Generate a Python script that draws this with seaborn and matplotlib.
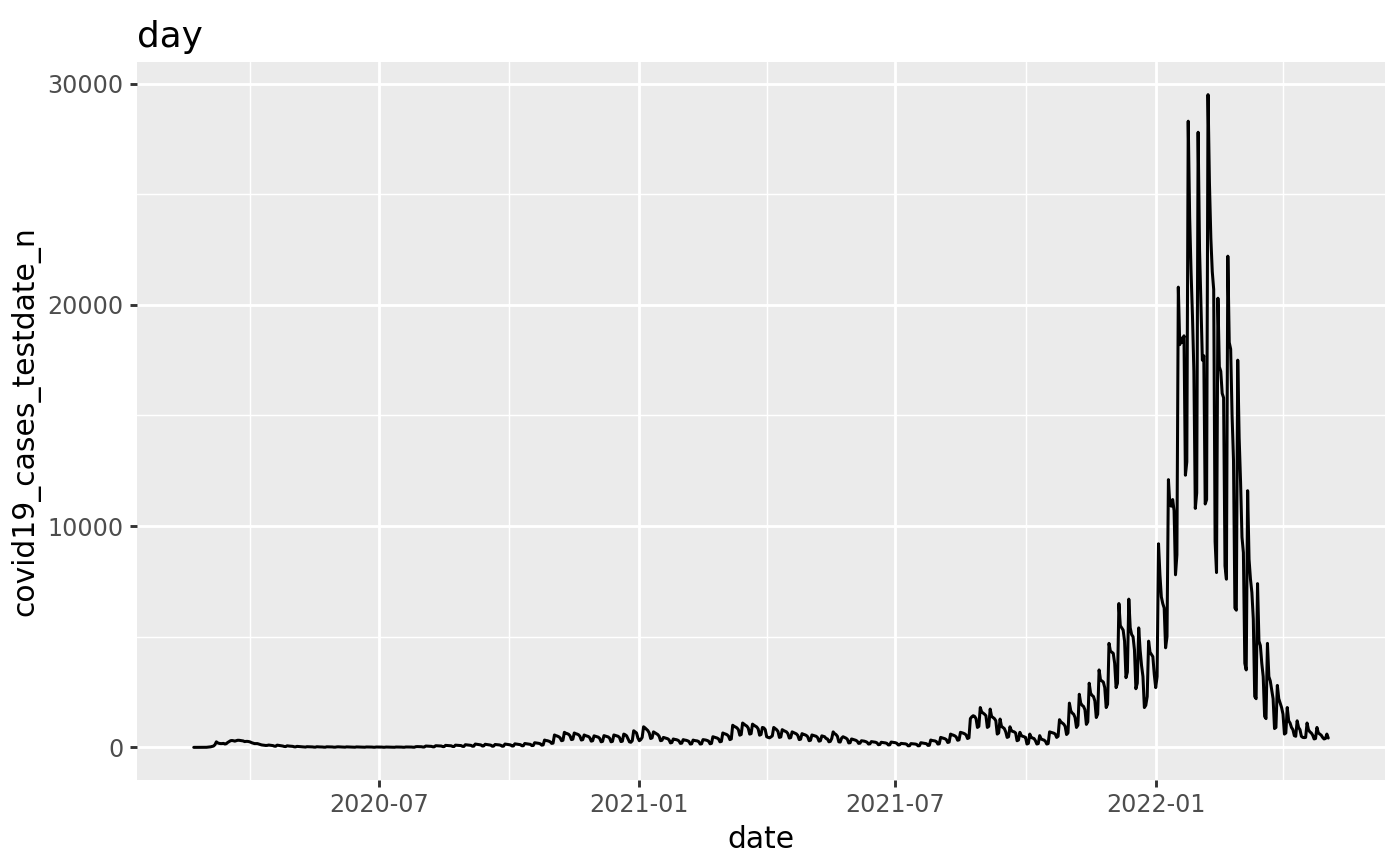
import pandas as pd
import seaborn as sns
from matplotlib import pyplot as plt
import matplotlib.dates as mdates
from matplotlib.ticker import MultipleLocator, FuncFormatter

# DATA (one row per week Mon..Sun)

start_date = "2020-02-21"
cases = [
    0, 0, 0,
    0, 0, 1, 2, 4, 3, 3,
    10, 15, 25, 40, 60, 120, 250,
    200, 180, 170, 170, 180, 150, 165,
    220, 260, 300, 310, 300, 280, 300,
    320, 320, 310, 300, 290, 260, 270,
    270, 260, 240, 210, 190, 170, 170,
    170, 150, 130, 110, 100, 85, 85,
    90, 105, 95, 90, 80, 55, 50,
    100, 90, 80, 70, 60, 40, 35,
    70, 60, 55, 50, 45, 25, 22,
    45, 40, 35, 32, 28, 15, 12,
    30, 28, 25, 24, 20, 10, 9,
    28, 22, 20, 18, 16, 8, 7,
    25, 24, 22, 20, 18, 9, 8,
    20, 25, 22, 20, 18, 8, 8,
    22, 20, 18, 17, 16, 7, 6,
    20, 18, 17, 15, 14, 6, 6,
    18, 17, 16, 15, 13, 6, 5,
    16, 15, 14, 13, 12, 5, 5,
    15, 14, 13, 13, 11, 5, 4,
    16, 15, 14, 12, 11, 5, 5,
    18, 17, 16, 15, 14, 7, 6,
    30, 35, 33, 30, 28, 15, 14,
    60, 55, 52, 50, 45, 25, 22,
    75, 70, 68, 65, 60, 35, 32,
    90, 85, 80, 78, 70, 40, 38,
    100, 95, 90, 85, 80, 45, 42,
    120, 110, 105, 100, 90, 50, 55,
    150, 140, 135, 125, 110, 60, 65,
    140, 130, 125, 115, 100, 50, 55,
    130, 125, 120, 110, 95, 50, 55,
    150, 140, 135, 125, 110, 60, 65,
    160, 150, 145, 135, 120, 70, 75,
    175, 165, 160, 150, 135, 80, 85,
    210, 200, 190, 180, 160, 100, 110,
    330, 310, 300, 280, 250, 180, 190,
    560, 530, 510, 480, 430, 300, 320,
    680, 640, 620, 590, 520, 350, 370,
    650, 620, 600, 570, 500, 330, 350,
    560, 530, 510, 490, 430, 280, 300,
    520, 500, 480, 460, 400, 250, 270,
    530, 510, 490, 470, 410, 250, 270,
    560, 540, 520, 500, 440, 260, 280,
    600, 570, 520, 380, 250, 230, 300,
    750, 700, 650, 420, 300, 350, 450,
    930, 880, 820, 760, 650, 400, 430,
    700, 660, 620, 580, 500, 300, 320,
    450, 430, 410, 390, 340, 200, 220,
    380, 360, 350, 330, 290, 180, 190,
    350, 330, 320, 300, 270, 150, 160,
    330, 310, 300, 290, 260, 150, 160,
    350, 340, 330, 310, 280, 160, 180,
    480, 460, 440, 420, 380, 250, 270,
    650, 620, 600, 570, 510, 350, 380,
    1000, 950, 920, 880, 800, 550, 580,
    1100, 1050, 1000, 960, 870, 600, 620,
    1050, 1000, 960, 920, 830, 550, 580,
    900, 880, 800, 480, 450, 430, 470,
    520, 900, 850, 800, 720, 450, 470,
    800, 760, 730, 700, 620, 420, 440,
    700, 670, 640, 610, 540, 350, 370,
    620, 590, 570, 540, 480, 300, 320,
    560, 540, 520, 500, 440, 280, 300,
    520, 500, 480, 400, 380, 250, 270,
    400, 700, 620, 580, 500, 250, 240,
    420, 480, 450, 420, 370, 200, 210,
    380, 360, 340, 320, 280, 180, 190,
    300, 290, 280, 260, 230, 150, 160,
    260, 250, 240, 230, 200, 120, 130,
    230, 220, 210, 200, 180, 110, 115,
    240, 230, 220, 210, 185, 110, 115,
    180, 170, 165, 160, 140, 70, 75,
    170, 165, 160, 150, 135, 70, 75,
    210, 200, 195, 185, 165, 90, 95,
    330, 310, 300, 290, 260, 150, 160,
    450, 430, 410, 390, 350, 220, 240,
    600, 570, 550, 520, 470, 320, 340,
    680, 660, 640, 610, 560, 400, 430,
    1300, 1380, 1430, 1400, 1300, 900, 950,
    1800, 1600, 1550, 1500, 1430, 900, 950,
    1730, 1400, 1350, 1300, 1200, 600, 650,
    1280, 950, 900, 850, 700, 450, 480,
    930, 750, 720, 700, 650, 300, 330,
    680, 530, 500, 480, 450, 150, 180,
    600, 450, 420, 400, 300, 150, 170,
    530, 380, 350, 330, 280, 150, 170,
    700, 680, 660, 640, 600, 450, 500,
    1250, 1150, 1100, 1050, 950, 580, 650,
    2000, 1650, 1550, 1500, 1350, 900, 1000,
    2400, 2000, 1900, 1850, 1700, 1040, 1150,
    2900, 2450, 2350, 2300, 2100, 1350, 1500,
    3500, 3050, 3000, 2950, 2700, 1800, 1950,
    4700, 4350, 4300, 4250, 3800, 2700, 2900,
    6500, 5500, 5400, 5300, 4800, 3150, 3400,
    6700, 5400, 5100, 5000, 4400, 2650, 2900,
    5400, 4400, 3700, 3200, 1800, 1900, 2300,
    4800, 4300, 4200, 4100, 3300, 2700, 3200,
    9200, 7800, 6800, 6500, 6300, 4500, 5000,
    12100, 11000, 10900, 11200, 10700, 7800, 8700,
    20800, 18200, 18500, 18300, 18600, 12300, 12900,
    28300, 24000, 21500, 19500, 17000, 10800, 11500,
    27800, 22500, 20000, 17500, 17700, 11000, 11200,
    29500, 25500, 23000, 21500, 20700, 9300, 7900,
    20300, 17200, 17000, 16000, 15800, 8200, 7600,
    22200, 18300, 18000, 15000, 13000, 6300, 6200,
    17500, 14000, 12000, 9500, 8800, 3800, 3500,
    11600, 8500, 7600, 7000, 5800, 2300, 2200,
    7400, 4800, 4600, 3800, 3200, 1400, 1300,
    4700, 3200, 3000, 2600, 2200, 850, 900,
    2800, 2200, 2000, 1800, 1500, 600, 650,
    1800, 1200, 1100, 900, 800, 530, 500,
    1200, 900, 800, 500, 450, 440, 450,
    1100, 800, 700, 650, 550, 380, 400,
    900, 650, 600, 550, 450, 380, 400,
    600, 420,
]

df = pd.DataFrame({
    'date': pd.date_range(start_date, periods=len(cases), freq='D'),
    'covid19_cases_testdate_n': cases,
})

# GGPLOT-LIKE THEME (sizes scaled up ~1.3 to match the reference)

k = 1.3
sns.set_theme(style='darkgrid', rc={
    'axes.facecolor': '#EBEBEB',
    'figure.facecolor': 'white',
    'grid.color': 'white',
    'axes.edgecolor': '#EBEBEB',
})
plt.rcParams['font.family'] = ['DejaVu Sans']

fig, ax = plt.subplots(figsize=(1400 / 150, 865 / 150), dpi=150)
fig.subplots_adjust(left=137 / 1400, right=1385 / 1400, top=1 - 62 / 865, bottom=1 - 780 / 865)

sns.lineplot(data=df, x='date', y='covid19_cases_testdate_n', color='black', linewidth=1.45, ax=ax)

# 5% expansion like ggplot
x0 = mdates.date2num(df['date'].min())
x1 = mdates.date2num(df['date'].max())
ax.set_xlim(x0 - 0.05 * (x1 - x0), x1 + 0.05 * (x1 - x0))
y0, y1 = min(cases), max(cases)
ax.set_ylim(y0 - 0.05 * (y1 - y0), y1 + 0.05 * (y1 - y0))

ax.xaxis.set_major_locator(mdates.MonthLocator(bymonth=[1, 7]))
ax.xaxis.set_minor_locator(mdates.MonthLocator(bymonth=[4, 10]))
ax.xaxis.set_major_formatter(mdates.DateFormatter('%Y-%m'))
ax.yaxis.set_major_locator(MultipleLocator(10000))
ax.yaxis.set_minor_locator(MultipleLocator(5000))
ax.yaxis.set_major_formatter(FuncFormatter(lambda v, p: '%d' % v))

ax.grid(which='major', color='white', linewidth=1.07 * k)
ax.grid(which='minor', color='white', linewidth=0.53 * k)
for s in ax.spines.values():
    s.set_visible(False)

ax.tick_params(which='major', direction='out', length=2.75 * k, width=1.07 * k, color='#333333',
               labelsize=8.8 * k, labelcolor='#4D4D4D', pad=2.2 * k,
               bottom=True, left=True)
ax.tick_params(which='minor', length=0)

ax.set_xlabel('date', fontsize=11 * k, color='black', labelpad=2.75 * k)
ax.set_ylabel('covid19_cases_testdate_n', fontsize=11 * k, color='black', labelpad=2.75 * k)
ax.set_title('day', loc='left', fontsize=13.2 * k, color='black', pad=5.5 * k)

plt.savefig('out.png', dpi=150)
